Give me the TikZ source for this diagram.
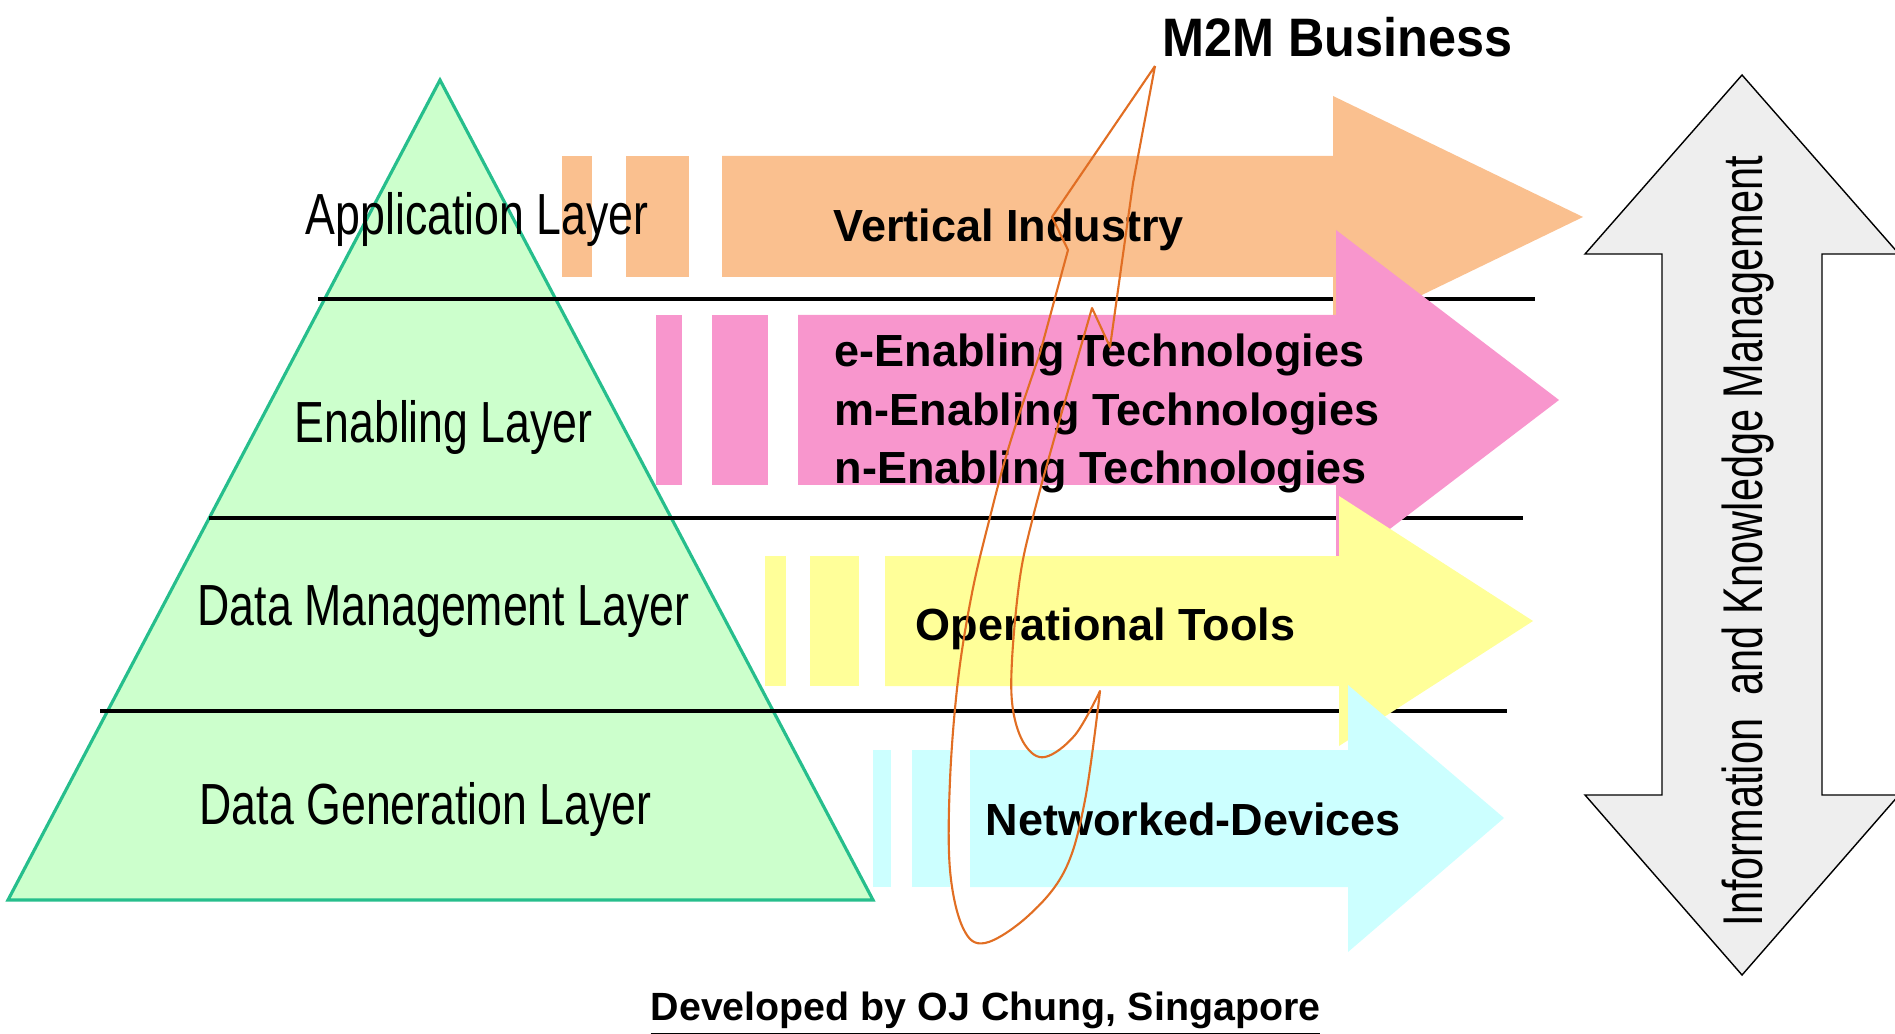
\documentclass[tikz,border=0pt]{standalone}
\usepackage{fontspec}
\setmainfont{Liberation Sans}
\newfontfamily\narrowsf[FakeStretch=0.77]{Liberation Sans}
\newfontfamily\headsf[FakeStretch=0.93]{Liberation Sans}
\usetikzlibrary{positioning}
\definecolor{pyrfill}{HTML}{CCFFCC}
\definecolor{pyredge}{RGB}{38,190,140}
\definecolor{orfill}{RGB}{250,192,143}
\definecolor{pkfill}{RGB}{248,150,205}
\definecolor{ylfill}{RGB}{255,255,153}
\definecolor{cyfill}{RGB}{204,255,255}
\definecolor{gyfill}{RGB}{238,238,238}
\definecolor{scribble}{RGB}{225,110,35}

\tikzset{
  layertxt/.style={anchor=base west, inner sep=0pt,
    font=\narrowsf\fontsize{16.5pt}{19pt}\selectfont},
  techtxt/.style={anchor=base west, inner sep=0pt,
    font=\bfseries\fontsize{12.8pt}{15pt}\selectfont},
  sepline/.style={line width=1.1pt, black},
  scribbleline/.style={draw=scribble, line width=0.6pt, line join=round},
}

\begin{document}
\begin{tikzpicture}[x=0.01cm, y=-0.01cm]
  \useasboundingbox (0,0) rectangle (1895,1034);
  % Define pyramid
  \filldraw[fill=pyrfill, draw=pyredge, line width=0.9pt] (440,80) -- (873,900) -- (8,900) -- cycle;
  % Define layer lines
  \draw[sepline] (318,299) -- (1535,299);
  \draw[sepline] (209,518) -- (1523,518);
  \draw[sepline] (100,711) -- (1507,711);
  % Define band arrows
  \fill[orfill] (562,156) rectangle (592,277);
  \fill[orfill] (626,156) rectangle (689,277);
  \fill[orfill] (722,156) -- (1333,156) -- (1333,96) -- (1583,217) -- (1333,338) -- (1333,277) -- (722,277) -- cycle;
  \fill[pkfill] (656,315) rectangle (682,485);
  \fill[pkfill] (712,315) rectangle (768,485);
  \fill[pkfill] (798,315) -- (1336,315) -- (1336,230) -- (1559,400) -- (1336,570) -- (1336,485) -- (798,485) -- cycle;
  \fill[ylfill] (765,556) rectangle (786,686);
  \fill[ylfill] (810,556) rectangle (859,686);
  \fill[ylfill] (885,556) -- (1339,556) -- (1339,496) -- (1533,621) -- (1339,746) -- (1339,686) -- (885,686) -- cycle;
  \fill[cyfill] (873,750) rectangle (891,887);
  \fill[cyfill] (912,750) rectangle (950,887);
  \fill[cyfill] (970,750) -- (1348,750) -- (1348,685) -- (1504,818) -- (1348,952) -- (1348,887) -- (970,887) -- cycle;
  % Define double arrow
  \filldraw[fill=gyfill, draw=black, line width=0.4pt] (1742,75) -- (1899,254) -- (1822,254) -- (1822,795) -- (1899,795)
    -- (1742,975) -- (1585,795) -- (1662,795) -- (1662,254) -- (1585,254) -- cycle;
  % Define layer labels
  \node[layertxt] (applbl) at (305,235) {Application Layer};
  \node[layertxt] (enablbl) at (294,443) {Enabling Layer};
  \node[layertxt] (datamglbl) at (197,625) {Data Management Layer};
  \node[layertxt] (datagenlbl) at (199,824) {Data Generation Layer};
  % Define band labels
  \node[techtxt] (vertind) at (833,242) {Vertical Industry};
  \node[techtxt] (etech) at (834,367) {e-Enabling Technologies};
  \node[techtxt, below=0.58cm of etech.base west, anchor=base west] (mtech) {m-Enabling Technologies};
  \node[techtxt, below=0.58cm of mtech.base west, anchor=base west] (ntech) {n-Enabling Technologies};
  \node[techtxt] (optools) at (915,640) {Operational Tools};
  \node[techtxt] (netdev) at (985,835) {Networked-Devices};
  \node[anchor=base west, inner sep=0pt, font=\headsf\bfseries\fontsize{15.4pt}{18pt}\selectfont] (mtwom) at (1162,57) {M2M Business};
  \node[rotate=90, inner sep=0pt, font=\fontsize{11.8pt}{14pt}\selectfont] (infokm) at (1748,541) {\scalebox{1}[1.35]{Information\ \ and Knowledge Management}};
  \node[anchor=base west, inner sep=0pt, font=\bfseries\fontsize{11.2pt}{13pt}\selectfont] (credit) at (650,1020) {\underline{Developed by OJ Chung, Singapore}};
  % Define scribble
  \draw[scribbleline] (1155,66) -- (1052,217) -- (1068,250) -- (1040,353)
    -- plot[smooth, tension=0.6] coordinates {(1040,353) (1010,443) (990,517) (972,593) (958,680) (950,780) (950,870) (963,928) (985,943) (1028,916) (1065,870) (1085,800) (1100,691)}
    -- plot[smooth, tension=0.6] coordinates {(1100,691) (1075,735) (1045,757) (1025,745) (1013,710) (1012,660) (1020,577) (1033,517) (1053,443) (1077,360)}
    -- (1092,308) -- (1110,347) -- (1133,183) -- (1155,66);
\end{tikzpicture}
\end{document}
